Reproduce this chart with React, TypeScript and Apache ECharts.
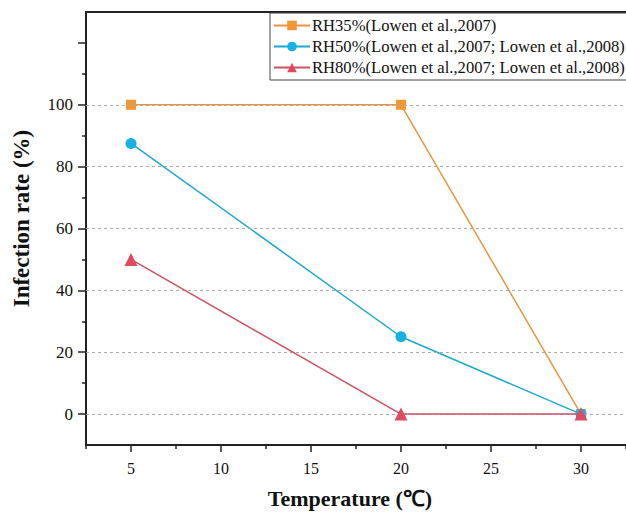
import React, { useEffect, useRef } from "react";
import * as echarts from "echarts";

const temperatures = [5, 20, 30];
const rh35 = [100, 100, 0];
const rh50 = [87.5, 25, 0];
const rh80 = [50, 0, 0];
const seriesNames = [
  "RH35%(Lowen et al.,2007)",
  "RH50%(Lowen et al.,2007; Lowen et al.,2008)",
  "RH80%(Lowen et al.,2007; Lowen et al.,2008)",
];
const xMajorTicks = [5, 10, 15, 20, 25, 30];
const xMinorTicks = [2.5, 7.5, 12.5, 17.5, 22.5, 27.5, 32.5];
const yLabelTicks = [0, 20, 40, 60, 80, 100];
const yMajorTicks = [0, 20, 40, 60, 80, 100, 120];
const yMinorTicks = [10, 30, 50, 70, 90, 110];
const gridLineValues = [0, 20, 40, 60, 80, 100];

const FONT = "Liberation Serif";
const AXIS_COLOR = "#222";

export default function App() {
  const ref = useRef<HTMLDivElement>(null);
  useEffect(() => {
    if (!ref.current) return;
    const chart = echarts.init(ref.current, undefined, { renderer: "svg" });
    const pair = (ys: number[]) => temperatures.map((t, i) => [t, ys[i]]);
    chart.setOption({
      animation: false,
      backgroundColor: "#fff",
      textStyle: { fontFamily: FONT },
      grid: { left: 86, top: 12, right: -2, bottom: 65 },
      legend: {
        data: seriesNames,
        orient: "vertical",
        left: 270,
        top: 13,
        itemWidth: 36,
        itemHeight: 12,
        itemGap: 4,
        padding: [4, 8, 4, 3],
        borderColor: "#444",
        borderWidth: 1,
        backgroundColor: "#fff",
        textStyle: { fontFamily: FONT, fontSize: 16.6, color: "#111", padding: [0, 0, 0, -3] },
      },
      xAxis: [
        {
          type: "value",
          min: 2.5,
          max: 32.5,
          position: "bottom",
          name: "Temperature (℃)",
          nameLocation: "middle",
          nameGap: 42,
          nameTextStyle: { fontFamily: FONT, fontSize: 22, fontWeight: "bold", color: "#111", padding: [0, 0, 0, -12] },
          axisLine: { show: true, onZero: false, lineStyle: { color: AXIS_COLOR, width: 2 } },
          axisTick: { show: true, customValues: xMajorTicks, length: 7, lineStyle: { color: AXIS_COLOR, width: 1.5 } },
          axisLabel: { customValues: xMajorTicks, margin: 15, fontFamily: FONT, fontSize: 16, color: "#111" },
          splitLine: { show: false },
        },
        {
          type: "value",
          min: 2.5,
          max: 32.5,
          position: "bottom",
          axisLine: { show: false, onZero: false },
          axisTick: { show: true, customValues: xMinorTicks, length: 4, lineStyle: { color: AXIS_COLOR, width: 1.5 } },
          axisLabel: { show: false },
          splitLine: { show: false },
        },
        {
          type: "value",
          min: 2.5,
          max: 32.5,
          position: "top",
          axisLine: { show: true, onZero: false, lineStyle: { color: AXIS_COLOR, width: 2 } },
          axisTick: { show: false },
          axisLabel: { show: false },
          splitLine: { show: false },
        },
      ],
      yAxis: [
        {
          type: "value",
          min: -10,
          max: 130,
          position: "left",
          name: "Infection rate (%)",
          nameLocation: "middle",
          nameGap: 53,
          nameTextStyle: { fontFamily: FONT, fontSize: 23, fontWeight: "bold", color: "#111", padding: [0, 0, 0, 20] },
          axisLine: { show: true, onZero: false, lineStyle: { color: AXIS_COLOR, width: 2 } },
          axisTick: { show: true, customValues: yMajorTicks, length: 8, lineStyle: { color: AXIS_COLOR, width: 1.5 } },
          axisLabel: { customValues: yLabelTicks, margin: 13, fontFamily: FONT, fontSize: 17, color: "#111" },
          splitLine: { show: false },
        },
        {
          type: "value",
          min: -10,
          max: 130,
          position: "left",
          axisLine: { show: false, onZero: false },
          axisTick: { show: true, customValues: yMinorTicks, length: 4, lineStyle: { color: AXIS_COLOR, width: 1.5 } },
          axisLabel: { show: false },
          splitLine: { show: false },
        },
      ],
      series: [
        {
          name: "grid",
          type: "line",
          data: [],
          z: 1,
          markLine: {
            silent: true,
            symbol: "none",
            label: { show: false },
            lineStyle: { color: "#aaa", type: [3, 3], width: 1 },
            data: gridLineValues.map((v) => ({ yAxis: v })),
          },
        },
        {
          name: seriesNames[0],
          type: "line",
          data: pair(rh35),
          symbol: "rect",
          symbolSize: 10,
          z: 3,
          itemStyle: { color: "#F39634" },
          lineStyle: { color: "#E8963E", width: 1.5 },
        },
        {
          name: seriesNames[1],
          type: "line",
          data: pair(rh50),
          symbol: "circle",
          symbolSize: 11,
          z: 4,
          itemStyle: { color: "#17B1E3" },
          lineStyle: { color: "#1BA8CF", width: 1.5 },
        },
        {
          name: seriesNames[2],
          type: "line",
          data: pair(rh80),
          symbol: "triangle",
          symbolSize: 13,
          z: 5,
          itemStyle: { color: "#DE4A5E" },
          lineStyle: { color: "#CC5263", width: 1.5 },
        },
      ],
    });
    return () => chart.dispose();
  }, []);
  return (
    <div
      ref={ref}
      style={{ position: "absolute", left: 0, top: 0, width: 626, height: 514 }}
    />
  );
}
